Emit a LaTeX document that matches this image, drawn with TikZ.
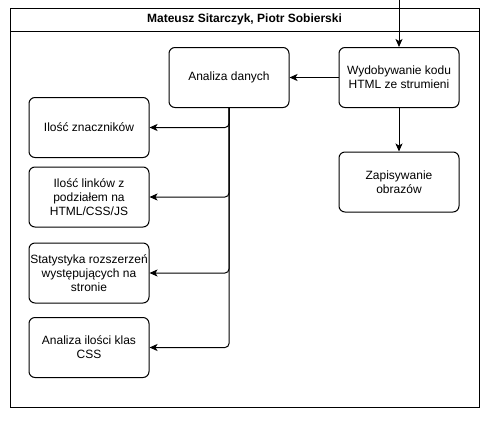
\documentclass[tikz,border=0pt]{standalone}
\usepackage{fontspec}
\setmainfont{Liberation Sans}
\usetikzlibrary{arrows.meta}
\begin{document}
\begin{tikzpicture}[x=1pt,y=-1pt,
  box/.style={draw,line width=1pt,rounded corners=6pt,minimum width=120pt,minimum height=60pt,
    align=center,inner sep=0pt,font=\fontsize{12}{14}\selectfont},
  conn/.style={line width=1pt,-{Stealth[length=8pt,width=7pt,inset=2pt]}},
  branch/.style={conn,rounded corners=4pt}]
\useasboundingbox (0,0) rectangle (498,429);
\node[draw,line width=1pt,minimum width=469pt,minimum height=399pt,inner sep=0pt] (frame) at (244.5,207.5) {};
\coordinate (tl) at (10,31);
\coordinate (tr) at (479,31);
\draw[line width=1pt] (tl) -- (tr);
\node[font=\bfseries\fontsize{12}{14}\selectfont] (title) at (244.5,19.5) {Mateusz Sitarczyk, Piotr Sobierski};
\node[box] (ad) at (229,77.5) {Analiza danych};
\node[box] (wk) at (399,77.5) {Wydobywanie kodu\\HTML ze strumieni};
\node[box] (zo) at (399,182) {Zapisywanie\\obrazów};
\node[box] (iz) at (89,127.5) {Ilość znaczników};
\node[box] (il) at (89,197) {Ilość linków z\\podziałem na\\HTML/CSS/JS};
\node[box] (sr) at (89,273) {Statystyka rozszerzeń\\występujących na\\stronie};
\node[box] (ak) at (89,347.5) {Analiza ilości klas\\CSS};
\coordinate (in) at (399,0);
\draw[conn] (in) -- (wk.north);
\draw[conn] (wk.west) -- (ad.east);
\draw[conn] (wk.south) -- (zo.north);
\draw[branch] (ad.south) |- (iz.east);
\draw[branch] (ad.south) |- (il.east);
\draw[branch] (ad.south) |- (sr.east);
\draw[branch] (ad.south) |- (ak.east);
\end{tikzpicture}
\end{document}
